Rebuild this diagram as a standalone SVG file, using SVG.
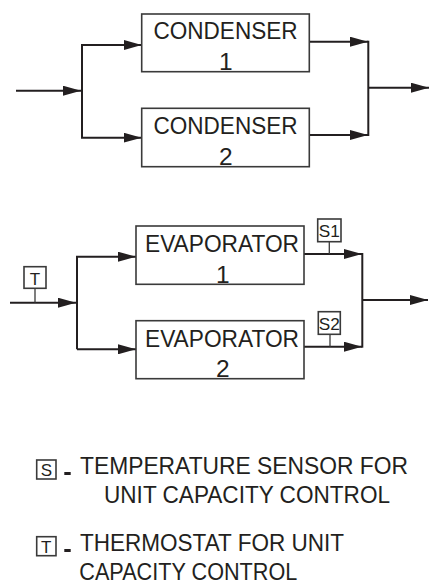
<svg xmlns="http://www.w3.org/2000/svg" width="429" height="588" viewBox="0 0 429 588">
<defs>
<marker id="ah" markerWidth="18" markerHeight="10" refX="18" refY="5" orient="auto" markerUnits="userSpaceOnUse">
<path d="M0,0 L18,5 L0,10 Z" fill="#231f20"/>
</marker>
</defs>
<style>
.box{fill:#fff;stroke:#3a3a3a;stroke-width:1.6}
.ln{fill:none;stroke:#231f20;stroke-width:2}
.st{fill:none;stroke:#3a3a3a;stroke-width:1.3}
.t{font-family:"Liberation Sans",Arial,sans-serif;fill:#231f20}
.lbl{font-size:24.5px}
.sm{font-size:17px}
.lg{font-size:24px}
</style>
<rect width="429" height="588" fill="#fff"/>
<g id="connectors">
<line class="ln" x1="16" y1="90.7" x2="81" y2="90.7" marker-end="url(#ah)"/>
<polyline class="ln" points="82,137.7 82,45 141.7,45" marker-end="url(#ah)"/>
<polyline class="ln" points="82,90 82,137.7 141.7,137.7" marker-end="url(#ah)"/>
<line class="ln" x1="309.3" y1="41.7" x2="368" y2="41.7" marker-end="url(#ah)"/>
<line class="ln" x1="309.3" y1="135" x2="368" y2="135" marker-end="url(#ah)"/>
<line class="ln" x1="368.3" y1="40.7" x2="368.3" y2="136"/>
<line class="ln" x1="368.3" y1="87.7" x2="429" y2="87.7" marker-end="url(#ah)"/>
<line class="ln" x1="10" y1="302.7" x2="76" y2="302.7" marker-end="url(#ah)"/>
<polyline class="ln" points="77,349.3 77,256.7 136,256.7" marker-end="url(#ah)"/>
<line class="ln" x1="77" y1="349.3" x2="136" y2="349.3" marker-end="url(#ah)"/>
<line class="ln" x1="304" y1="254" x2="362" y2="254" marker-end="url(#ah)"/>
<line class="ln" x1="304" y1="346.7" x2="362" y2="346.7" marker-end="url(#ah)"/>
<line class="ln" x1="362.3" y1="253" x2="362.3" y2="347.7"/>
<line class="ln" x1="362.3" y1="300" x2="428" y2="300" marker-end="url(#ah)"/>
<line class="st" x1="35" y1="288.3" x2="35" y2="302.7"/>
<line class="st" x1="329.3" y1="241.7" x2="329.3" y2="254"/>
<line class="st" x1="330" y1="334.3" x2="330" y2="346.7"/>
</g>
<g id="condenser1">
<rect class="box" x="141.7" y="14" width="167.6" height="57.7"/>
<text class="t lbl" x="225.5" y="39.3" text-anchor="middle" textLength="144" lengthAdjust="spacingAndGlyphs">CONDENSER</text>
<text class="t lbl" x="225.7" y="70" text-anchor="middle">1</text>
</g>
<g id="condenser2">
<rect class="box" x="141.7" y="108.3" width="167.6" height="58.4"/>
<text class="t lbl" x="225.5" y="133.6" text-anchor="middle" textLength="144" lengthAdjust="spacingAndGlyphs">CONDENSER</text>
<text class="t lbl" x="225.7" y="164.5" text-anchor="middle">2</text>
</g>
<g id="evaporator1">
<rect class="box" x="136" y="226" width="168" height="58.3"/>
<text class="t lbl" x="222" y="252.3" text-anchor="middle" textLength="154" lengthAdjust="spacingAndGlyphs">EVAPORATOR</text>
<text class="t lbl" x="222.7" y="283" text-anchor="middle">1</text>
</g>
<g id="evaporator2">
<rect class="box" x="136" y="320.7" width="168" height="58"/>
<text class="t lbl" x="222" y="347" text-anchor="middle" textLength="154" lengthAdjust="spacingAndGlyphs">EVAPORATOR</text>
<text class="t lbl" x="222.7" y="377" text-anchor="middle">2</text>
</g>
<g id="sensorT">
<rect class="box" x="24" y="266.7" width="22" height="21.6"/>
<text class="t sm" x="35" y="284.5" text-anchor="middle">T</text>
</g>
<g id="sensorS1">
<rect class="box" x="317.7" y="219" width="23.3" height="22.7"/>
<text class="t sm" x="329.3" y="237" text-anchor="middle" textLength="21" lengthAdjust="spacingAndGlyphs">S1</text>
</g>
<g id="sensorS2">
<rect class="box" x="318.3" y="311.7" width="22" height="22.6"/>
<text class="t sm" x="329.3" y="329.5" text-anchor="middle" textLength="21" lengthAdjust="spacingAndGlyphs">S2</text>
</g>
<g id="legendS">
<rect class="box" x="36.7" y="460" width="19.3" height="19"/>
<text class="t sm" x="46.3" y="476" text-anchor="middle">S</text>
<rect x="64.3" y="472" width="6.4" height="3" fill="#231f20"/>
<text class="t lg" x="80" y="474" textLength="328" lengthAdjust="spacingAndGlyphs">TEMPERATURE SENSOR FOR</text>
<text class="t lg" x="104" y="503" textLength="286" lengthAdjust="spacingAndGlyphs">UNIT CAPACITY CONTROL</text>
</g>
<g id="legendT">
<rect class="box" x="36.7" y="536.7" width="19.3" height="19"/>
<text class="t sm" x="46.3" y="552.5" text-anchor="middle">T</text>
<rect x="64.3" y="549" width="6.4" height="3" fill="#231f20"/>
<text class="t lg" x="80" y="551" textLength="264" lengthAdjust="spacingAndGlyphs">THERMOSTAT FOR UNIT</text>
<text class="t lg" x="79.3" y="580" textLength="218" lengthAdjust="spacingAndGlyphs">CAPACITY CONTROL</text>
</g>
</svg>
